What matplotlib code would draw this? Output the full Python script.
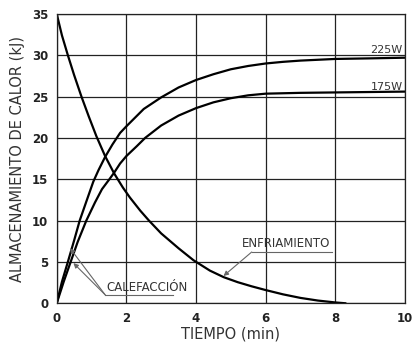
import numpy as np
import matplotlib.pyplot as plt

# values (time in min, heat in kJ)
t_225 = [0, 0.15, 0.32, 0.5, 0.66, 0.85, 1.05, 1.2, 1.39, 1.6, 1.82, 2.0, 2.5, 3.0,
         3.5, 4.0, 4.5, 5.0, 5.5, 6.0, 6.5, 7.0, 8.0, 9.0, 10.0]
q_225 = [0, 2.6, 5.0, 7.6, 10.0, 12.3, 14.7, 16.1, 17.7, 19.2, 20.6, 21.4, 23.5, 24.9,
         26.1, 27.0, 27.7, 28.3, 28.7, 29.0, 29.2, 29.35, 29.55, 29.62, 29.7]

t_175 = [0, 0.2, 0.4, 0.6, 0.85, 1.1, 1.3, 1.53, 1.65, 1.82, 2.0, 2.3, 2.54, 3.0,
         3.5, 4.0, 4.5, 5.0, 5.5, 6.0, 7.0, 8.0, 9.0, 10.0]
q_175 = [0, 2.6, 5.0, 7.4, 10.0, 12.2, 13.8, 15.1, 15.8, 16.9, 17.8, 19.0, 20.0, 21.5,
         22.7, 23.6, 24.3, 24.8, 25.15, 25.35, 25.45, 25.5, 25.55, 25.6]

t_cool = [0, 0.15, 0.32, 0.5, 0.71, 0.92, 1.14, 1.39, 1.65, 1.9, 2.1, 2.4, 2.65, 3.0,
          3.5, 3.93, 4.4, 4.8, 5.2, 5.6, 6.0, 6.5, 7.0, 7.5, 8.0, 8.3]
q_cool = [35, 32.4, 30.0, 27.6, 25.0, 22.6, 20.2, 17.8, 15.7, 14.0, 12.8, 11.2, 10.0, 8.45,
          6.65, 5.2, 3.95, 3.15, 2.55, 2.05, 1.6, 1.08, 0.65, 0.33, 0.1, 0.0]

xticks = [0, 2, 4, 6, 8, 10]
yticks = [0, 5, 10, 15, 20, 25, 30, 35]

fig = plt.figure(figsize=(4.14, 3.47), dpi=100)
ax = fig.add_axes([0.137, 0.126, 0.841, 0.834])

for t, q in [(t_225, q_225), (t_175, q_175), (t_cool, q_cool)]:
    ax.plot(t, q, color='black', lw=1.6, solid_joinstyle='round', solid_capstyle='round')

ax.set_xlim(0, 10)
ax.set_ylim(0, 35)
ax.set_xticks(xticks)
ax.set_yticks(yticks)
ax.grid(True, color='#222222', lw=0.9)
ax.tick_params(length=0, labelsize=8.5, pad=6)
for lab in ax.get_xticklabels() + ax.get_yticklabels():
    lab.set_fontweight('bold')
    lab.set_color('#222222')
for s in ax.spines.values():
    s.set_linewidth(0.9)
    s.set_color('#222222')

ax.set_xlabel('TIEMPO (min)', fontsize=10.5, color='#333333', labelpad=1)
ax.set_ylabel('ALMACENAMIENTO DE CALOR (kJ)', fontsize=10.5, color='#333333', labelpad=5)

# curve labels
ax.text(9.94, 30.25, '225W', ha='right', va='baseline', fontsize=8, color='#333333')
ax.text(9.94, 25.8, '175W', ha='right', va='baseline', fontsize=8, color='#333333')

gray = '#666666'
arrow = dict(arrowstyle='-|>', color=gray, lw=0.8, mutation_scale=7, shrinkA=0, shrinkB=0)

# ENFRIAMIENTO
ax.text(6.6, 6.75, 'ENFRIAMIENTO', ha='center', va='baseline', fontsize=8.5, color='#333333')
ax.plot([5.6, 7.92], [6.2, 6.2], color=gray, lw=0.8)
ax.annotate('', xy=(4.79, 3.3), xytext=(5.6, 6.2), arrowprops=arrow)

# CALEFACCION
ax.text(2.58, 1.43, 'CALEFACCIÓN', ha='center', va='baseline', fontsize=8.5, color='#333333')
ax.plot([1.39, 3.35], [1.03, 1.03], color=gray, lw=0.8)
ax.annotate('', xy=(0.38, 6.67), xytext=(1.39, 1.03), arrowprops=arrow)
ax.annotate('', xy=(0.48, 4.86), xytext=(1.39, 1.03), arrowprops=arrow)

plt.savefig('out.png', dpi=100)
